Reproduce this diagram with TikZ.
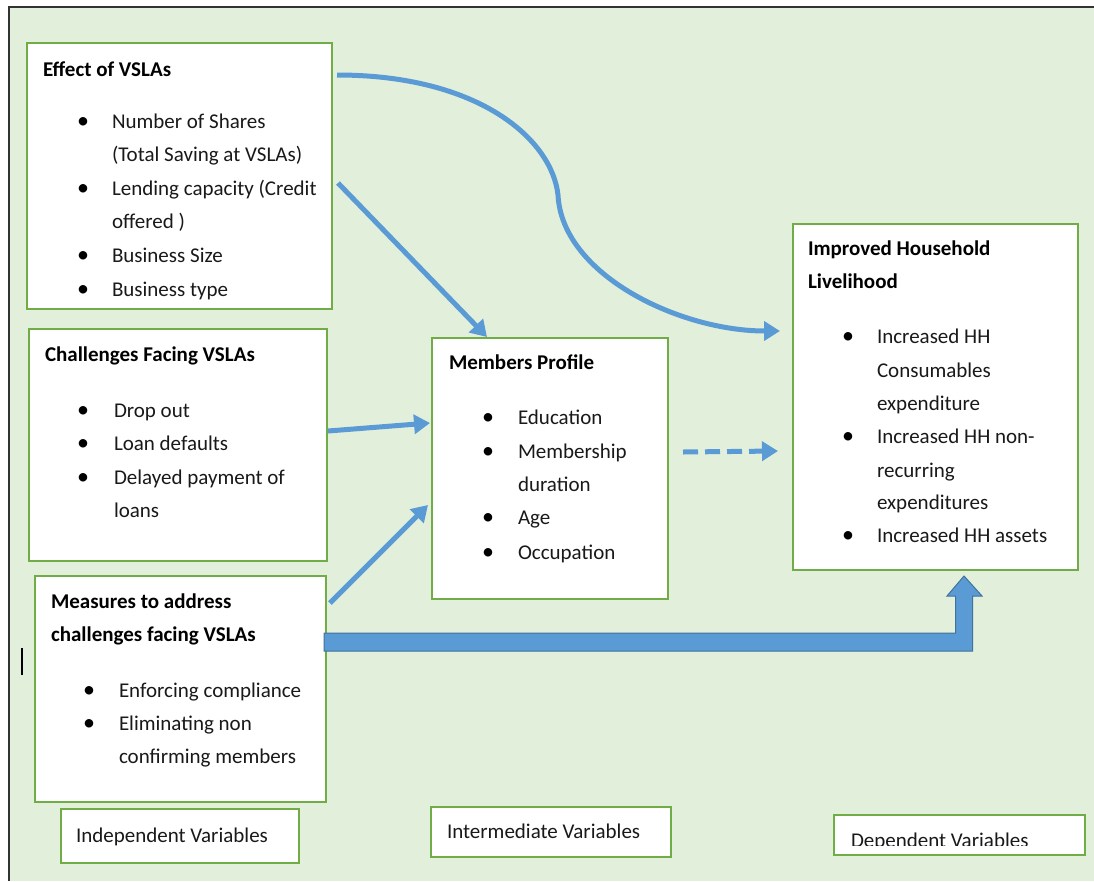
\documentclass[tikz,border=0pt]{standalone}
\usepackage{fontspec}
\setmainfont{Carlito}
\usetikzlibrary{arrows.meta,calc}
\definecolor{bg}{HTML}{E2EFDA}
\definecolor{gbox}{HTML}{70AD47}
\definecolor{arr}{HTML}{5B9BD5}
\definecolor{arrd}{HTML}{41719C}
\begin{document}
\begin{tikzpicture}[x=1pt,y=-1pt,
  box/.style={draw=gbox, line width=2.5pt, fill=white, rectangle, inner sep=0pt, outer sep=0pt, anchor=north west},
  txt/.style={anchor=base west, inner sep=0pt, outer sep=0pt, font=\fontsize{21}{25}\selectfont, text=black!90},
  ttl/.style={txt, font=\fontsize{21}{25}\selectfont\bfseries, text=black},
  bul/.style={anchor=base, inner sep=0pt, outer sep=0pt, font=\fontsize{24}{28}\selectfont},
  conn/.style={draw=arr, line width=5pt, -{Triangle[length=16pt,width=19pt]}},
  dconn/.style={conn, dash pattern=on 15pt off 7pt},
  blockarr/.style={fill=arr, draw=arrd, line width=1pt, line join=miter}]
\useasboundingbox (0,0) rectangle (1094,881);
% background and frame
\fill[bg] (9,7) rectangle (1094,881);
\draw[black!80, line width=2pt] (9,881) -- (9,7) -- (1094,7);
\draw[black, line width=1.2pt] (22,648) -- (22,675);

% boxes
\node[box, minimum width=305pt, minimum height=266pt] (effect) at (27,43) {};
\node[box, minimum width=298pt, minimum height=232pt] (chall) at (29,329) {};
\node[box, minimum width=291pt, minimum height=226pt] (meas) at (35,576) {};
\node[box, minimum width=236pt, minimum height=261pt] (members) at (432,338) {};
\node[box, minimum width=285pt, minimum height=346pt] (improved) at (793,224) {};
\node[box, minimum width=238pt, minimum height=54pt] (indep) at (61,809) {};
\node[box, minimum width=240pt, minimum height=50pt] (interm) at (431,807) {};
\node[box, minimum width=251pt, minimum height=40pt] (dep) at (834,815) {};

% Effect of VSLAs
\node[ttl] (et) at (43,76) {Effect of VSLAs};
\node[bul] (eb1) at (83,128) {•};
\node[txt] (e1) at (112,128) {Number of Shares};
\node[txt] (e2) at (112,161) {(Total Saving at VSLAs)};
\node[bul] (eb2) at (83,195) {•};
\node[txt] (e3) at (112,195) {Lending capacity (Credit};
\node[txt] (e4) at (112,228) {offered )};
\node[bul] (eb3) at (83,262) {•};
\node[txt] (e5) at (112,262) {Business Size};
\node[bul] (eb4) at (83,296) {•};
\node[txt] (e6) at (112,296) {Business type};

% Challenges
\node[ttl] (ct) at (45,361) {Challenges Facing VSLAs};
\node[bul] (cb1) at (83,417) {•};
\node[txt] (c1) at (114,417) {Drop out};
\node[bul] (cb2) at (83,450) {•};
\node[txt] (c2) at (114,450) {Loan defaults};
\node[bul] (cb3) at (83,484) {•};
\node[txt] (c3) at (114,484) {Delayed payment of};
\node[txt] (c4) at (114,517) {loans};

% Measures
\node[ttl] (mt1) at (51,608) {Measures to address};
\node[ttl] (mt2) at (51,641) {challenges facing VSLAs};
\node[bul] (mb1) at (89,697) {•};
\node[txt] (m1) at (119,697) {Enforcing compliance};
\node[bul] (mb2) at (89,730) {•};
\node[txt] (m2) at (119,730) {Eliminating non};
\node[txt] (m3) at (119,763) {confirming members};

% Members profile
\node[ttl] (pt) at (449,369) {Members Profile};
\node[bul] (pb1) at (488,424) {•};
\node[txt] (p1) at (518,424) {Education};
\node[bul] (pb2) at (488,458) {•};
\node[txt] (p2) at (518,458) {Membership};
\node[txt] (p3) at (518,491) {duration};
\node[bul] (pb3) at (488,524) {•};
\node[txt] (p4) at (518,524) {Age};
\node[bul] (pb4) at (488,559) {•};
\node[txt] (p5) at (518,559) {Occupation};

% Improved household livelihood
\node[ttl] (it1) at (808,255) {Improved Household};
\node[ttl] (it2) at (808,288) {Livelihood};
\node[bul] (ib1) at (848,343) {•};
\node[txt] (i1) at (877,343) {Increased HH};
\node[txt] (i2) at (877,377) {Consumables};
\node[txt] (i3) at (877,410) {expenditure};
\node[bul] (ib2) at (848,443) {•};
\node[txt] (i4) at (877,443) {Increased HH non-};
\node[txt] (i5) at (877,477) {recurring};
\node[txt] (i6) at (877,509) {expenditures};
\node[bul] (ib3) at (848,542) {•};
\node[txt] (i7) at (877,542) {Increased HH assets};

% legend labels
\node[txt] (lt1) at (76,842) {Independent Variables};
\node[txt] (lt2) at (447,838) {Intermediate Variables};
\begin{scope}
  \clip (834,815) rectangle (1085,845);
  \node[txt] (lt3) at (851,847) {Dependent Variables};
\end{scope}

% connectors
\draw[conn] ($(effect.north east)+(5,32)$) .. controls (480,75) and (552,140) .. (558,195)
  .. controls (562,275) and (680,331) .. ($(improved.north west)+(-13,107)$);
\draw[conn] ($(effect.north east)+(6,140)$) -- ($(members.north west)+(55,-1)$);
\draw[conn] ($(chall.north east)+(1,102)$) -- ($(members.north west)+(-2,85)$);
\draw[conn] ($(meas.north east)+(4,27)$) -- ($(members.north west)+(-4,167)$);
\draw[dconn] ($(members.north east)+(15,114)$) -- ($(improved.north west)+(-15,227)$);

% block arrow
\coordinate (tip) at ($(improved.south)+(28.5,6)$);
\coordinate (b1) at ($(meas.north east)+(-2,57)$);
\coordinate (b2) at ($(b1)+(0,18)$);
\path (tip) ++(-8.5,20) coordinate (sl) ++(-8.5,0) coordinate (hl);
\path (tip) ++(8.5,20) coordinate (sr) ++(9.5,0) coordinate (hr);
\filldraw[blockarr] (b1) -- (sl |- b1) -- (sl) -- (hl) -- (tip) -- (hr) -- (sr) -- (sr |- b2) -- (b2) -- cycle;
\end{tikzpicture}
\end{document}
